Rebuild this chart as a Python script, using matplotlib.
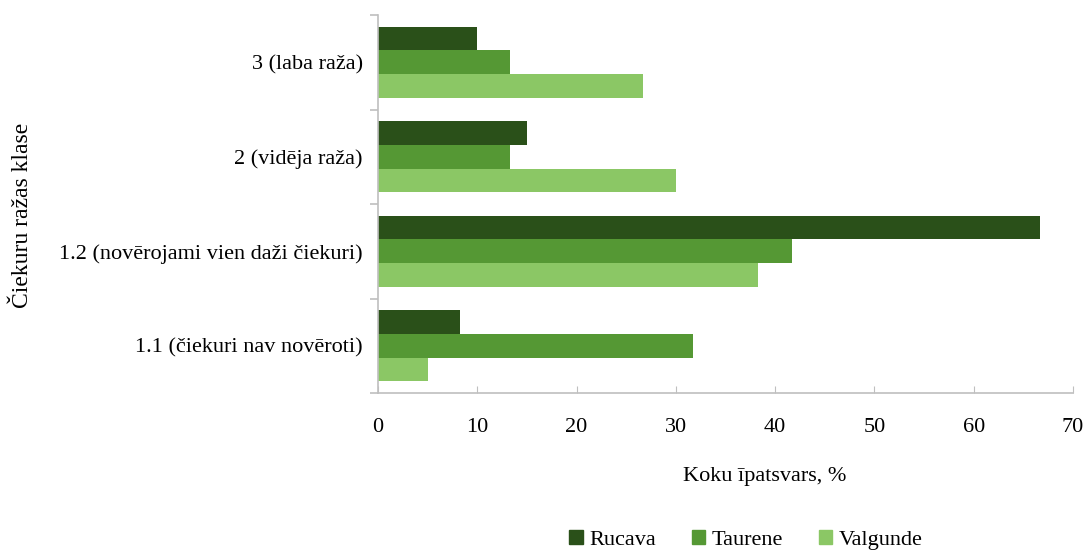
import numpy as np
import matplotlib.pyplot as plt
from matplotlib.patches import Patch

categories = ['1.1 (čiekuri nav novēroti)', '1.2 (novērojami vien daži čiekuri)',
              '2 (vidēja raža)', '3 (laba raža)']
rucava = [8.3, 66.7, 15, 10]
taurene = [31.7, 41.7, 13.3, 13.3]
valgunde = [5, 38.3, 30, 26.7]
series_names = ['Rucava', 'Taurene', 'Valgunde']
colors = ['#2A5019', '#559834', '#8BC765']

plt.rcParams['font.family'] = ['Liberation Serif', 'DejaVu Serif']

fig = plt.figure(figsize=(10.89, 5.5), dpi=100)
ax = fig.add_axes([378 / 1089, 1 - 393 / 550, (1073 - 378) / 1089, (393 - 15) / 550])

y = np.arange(len(categories))
h = 0.25
for i, (vals, name) in enumerate(zip([rucava, taurene, valgunde], series_names)):
    ax.barh(y + (1 - i) * h, vals, height=h, color=colors[i], label=name)

ax.set_xlim(0, 70)
ax.set_ylim(-0.5, len(categories) - 0.5)
ax.set_xticks(range(0, 71, 10))
ax.set_yticks(y)
ax.set_yticklabels(categories)
ax.set_yticks(np.arange(-0.5, len(categories), 1), minor=True)

for s in ['top', 'right']:
    ax.spines[s].set_visible(False)
for s in ['left', 'bottom']:
    ax.spines[s].set_color('#BFBFBF')
    ax.spines[s].set_linewidth(1.2)

ax.tick_params(axis='x', direction='in', length=5, color='#BFBFBF', labelsize=16, pad=18)
ax.tick_params(axis='y', which='major', length=0, labelsize=16, pad=11)
ax.tick_params(axis='y', which='minor', length=6, color='#BFBFBF', width=1.2)

fig.text(765 / 1089, 1 - 476 / 550, 'Koku īpatsvars, %', ha='center', va='center', fontsize=16)
fig.text(22 / 1089, 1 - 215 / 550, 'Čiekuru ražas klase', ha='center', va='center',
         rotation=90, fontsize=17)

handles = [Patch(color=c) for c in colors]
fig.legend(handles, series_names, loc='center', bbox_to_anchor=(746 / 1089, 1 - 540 / 550),
           ncol=3, frameon=False, fontsize=16, handlelength=0.6, handleheight=0.6,
           columnspacing=1.6, handletextpad=0.3)

fig.savefig('out.png', dpi=100)
